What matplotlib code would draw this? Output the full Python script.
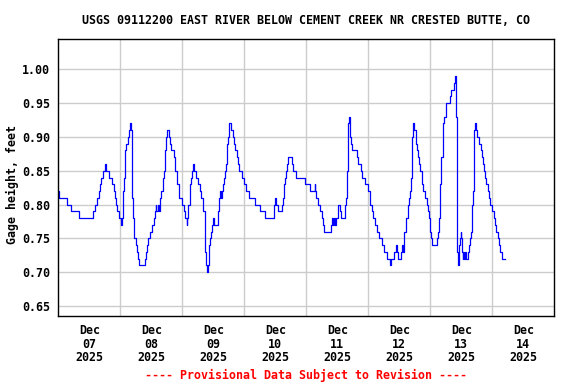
import matplotlib
matplotlib.use("Agg")
import matplotlib.pyplot as plt
from matplotlib.ticker import FixedLocator, NullFormatter

# gage height readings, hours after 2025-12-07 00:00 MST
hours = [0.0, 0.4, 3.2, 4.8, 8.1, 13.3, 14.2, 15.0, 15.6, 16.0, 16.4, 17.4, 18.0, 18.4,
         19.8, 20.8, 21.4, 21.9, 22.4, 22.9, 23.4, 24.2, 24.7, 25.1, 25.5, 25.9, 26.3,
         26.8, 27.2, 27.7, 28.2, 28.6, 28.7, 29.1, 29.3, 30.0, 30.4, 30.9, 31.3, 33.5,
         33.8, 34.4, 34.9, 35.5, 36.3, 36.9, 37.3, 37.7, 38.0, 38.6, 39.0, 39.2, 39.9,
         40.4, 40.8, 41.2, 41.6, 41.8, 42.2, 42.8, 43.2, 43.7, 44.6, 45.0, 45.9, 46.8,
         47.9, 48.5, 49.0, 49.7, 50.0, 50.4, 50.8, 51.2, 51.6, 52.0, 52.5, 53.4, 54.2,
         54.7, 55.1, 55.2, 55.3, 56.2, 56.6, 56.9, 57.2, 57.5, 57.8, 58.2, 58.5, 58.9,
         59.3, 59.6, 60.0, 60.2, 61.8, 62.1, 62.7, 63.0, 63.4, 63.7, 64.1, 64.6, 65.0,
         65.2, 65.4, 65.7, 66.0, 67.0, 67.5, 67.9, 68.4, 69.0, 69.5, 70.1, 71.1, 71.8,
         72.7, 73.7, 76.2, 78.0, 80.0, 83.4, 84.0, 84.3, 84.9, 86.6, 87.0, 87.2, 87.5,
         87.7, 88.1, 88.5, 88.9, 90.3, 90.8, 92.0, 95.6, 97.6, 99.2, 99.3, 99.7, 100.7,
         101.2, 101.9, 102.3, 102.9, 105.5, 106.1, 106.4, 106.8, 107.1, 107.4, 108.1,
         108.4, 109.0, 109.5, 110.8, 111.0, 111.3, 111.7, 111.9, 112.2, 112.6, 113.1,
         113.3, 113.8, 115.5, 116.2, 117.1, 117.7, 118.7, 119.9, 120.7, 121.3, 122.0,
         122.6, 123.2, 124.1, 125.2, 125.9, 127.2, 128.5, 128.9, 129.9, 130.6, 131.0,
         131.6, 132.8, 133.1, 133.4, 133.8, 134.0, 134.7, 135.3, 135.8, 136.2, 136.6,
         137.0, 137.4, 137.6, 138.3, 138.9, 139.3, 139.8, 140.2, 140.9, 141.2, 141.8,
         142.8, 143.2, 143.6, 143.8, 144.3, 144.7, 146.6, 147.0, 147.3, 147.7, 147.9,
         148.3, 148.8, 149.1, 149.5, 149.9, 150.1, 151.5, 152.2, 153.0, 153.6, 154.0,
         154.1, 154.35, 154.6, 155.0, 155.4, 155.8, 156.0, 156.3, 156.5, 156.8, 157.1,
         157.6, 157.8, 158.5, 158.9, 159.2, 159.8, 160.1, 160.5, 160.8, 161.0, 161.3,
         161.7, 162.2, 162.8, 163.5, 164.0, 164.4, 164.9, 165.3, 165.7, 166.2, 166.6,
         167.2, 167.9, 168.5, 169.2, 169.5, 170.1, 170.7, 171.1, 171.7, 173.0]
gage = [0.82, 0.81, 0.80, 0.79, 0.78, 0.79, 0.80, 0.81, 0.82, 0.83, 0.84, 0.85, 0.86, 0.85,
        0.84, 0.83, 0.82, 0.81, 0.80, 0.79, 0.78, 0.77, 0.78, 0.82, 0.84, 0.88, 0.89,
        0.90, 0.91, 0.92, 0.91, 0.89, 0.81, 0.78, 0.75, 0.74, 0.73, 0.72, 0.71, 0.72,
        0.73, 0.74, 0.75, 0.76, 0.77, 0.78, 0.79, 0.80, 0.79, 0.80, 0.79, 0.81, 0.82,
        0.84, 0.85, 0.88, 0.89, 0.90, 0.91, 0.90, 0.89, 0.88, 0.87, 0.85, 0.83, 0.81,
        0.80, 0.79, 0.78, 0.77, 0.78, 0.80, 0.83, 0.84, 0.85, 0.86, 0.85, 0.84, 0.83,
        0.82, 0.81, 0.82, 0.81, 0.79, 0.77, 0.73, 0.71, 0.70, 0.71, 0.72, 0.74, 0.75,
        0.76, 0.77, 0.78, 0.77, 0.79, 0.81, 0.82, 0.81, 0.82, 0.83, 0.84, 0.85, 0.86,
        0.88, 0.89, 0.90, 0.92, 0.91, 0.90, 0.89, 0.88, 0.87, 0.86, 0.85, 0.84, 0.83,
        0.82, 0.81, 0.80, 0.79, 0.78, 0.80, 0.81, 0.80, 0.79, 0.80, 0.81, 0.82, 0.83,
        0.84, 0.85, 0.86, 0.87, 0.86, 0.85, 0.84, 0.83, 0.82, 0.83, 0.82, 0.81, 0.80,
        0.79, 0.78, 0.77, 0.76, 0.77, 0.78, 0.77, 0.78, 0.77, 0.78, 0.79,
        0.80, 0.79, 0.78, 0.79, 0.80, 0.81, 0.83, 0.85, 0.92, 0.93, 0.90,
        0.89, 0.88, 0.87, 0.86, 0.85, 0.84, 0.83, 0.82, 0.80, 0.79, 0.78,
        0.77, 0.76, 0.75, 0.74, 0.73, 0.72, 0.71, 0.72, 0.73, 0.74, 0.73,
        0.72, 0.73, 0.74, 0.73, 0.75, 0.76, 0.78, 0.80, 0.81, 0.82, 0.84,
        0.90, 0.92, 0.91, 0.89, 0.88, 0.87, 0.86, 0.85, 0.83, 0.82, 0.81,
        0.80, 0.79, 0.78, 0.76, 0.75, 0.74, 0.75, 0.76, 0.78, 0.81, 0.83,
        0.87, 0.89, 0.92, 0.93, 0.94, 0.95, 0.96, 0.97, 0.98, 0.99, 0.98,
        0.93, 0.73, 0.71, 0.74, 0.75, 0.76, 0.75, 0.73, 0.72, 0.73, 0.72,
        0.73, 0.72, 0.73, 0.74, 0.75, 0.76, 0.80, 0.82, 0.86, 0.91, 0.92,
        0.91, 0.90, 0.89, 0.88, 0.87, 0.86, 0.85, 0.84, 0.83, 0.82, 0.81,
        0.80, 0.79, 0.78, 0.77, 0.76, 0.75, 0.74, 0.73, 0.72, 0.72]

day_labels = ['Dec\n07\n2025', 'Dec\n08\n2025', 'Dec\n09\n2025', 'Dec\n10\n2025',
              'Dec\n11\n2025', 'Dec\n12\n2025', 'Dec\n13\n2025', 'Dec\n14\n2025']
y_ticks = [0.65, 0.70, 0.75, 0.80, 0.85, 0.90, 0.95, 1.00]

font = 'DejaVu Sans Mono'
fs = 8.4

fig = plt.figure(figsize=(5.76, 3.84), dpi=100)
ax = fig.add_axes([0.1012, 0.1771, 0.8611, 0.7206])

ax.plot(hours, gage, color='#0000ff', lw=0.9, drawstyle='steps-post')

ax.set_xlim(0, 24 * len(day_labels))
ax.set_ylim(0.6352, 1.0444)

ax.xaxis.set_major_locator(FixedLocator([12 + 24 * i for i in range(len(day_labels))]))
ax.xaxis.set_minor_locator(FixedLocator([24 * i for i in range(1, len(day_labels))]))
ax.set_xticklabels(day_labels, fontfamily=font, fontweight='bold', fontsize=fs,
                   linespacing=1.05)
ax.xaxis.set_minor_formatter(NullFormatter())
ax.set_yticks(y_ticks)
ax.set_yticklabels(['%.2f' % v for v in y_ticks], fontfamily=font, fontweight='bold',
                   fontsize=fs)
ax.tick_params(axis='x', which='both', length=0, pad=6)
ax.tick_params(axis='y', length=0, pad=6)

ax.grid(True, which='minor', axis='x', color='#cccccc', lw=1.0)
ax.grid(True, which='major', axis='y', color='#cccccc', lw=1.0)
ax.set_axisbelow(True)
for s in ax.spines.values():
    s.set_linewidth(1.0)
    s.set_color('black')

fig.text(306 / 576, 1 - 20 / 384, 'USGS 09112200 EAST RIVER BELOW CEMENT CREEK NR CRESTED BUTTE, CO',
         ha='center', va='center', fontfamily=font, fontweight='bold', fontsize=fs)
fig.text(12 / 576, 1 - 184 / 384, 'Gage height, feet', rotation=90, ha='center', va='center',
         fontfamily=font, fontweight='bold', fontsize=fs)
fig.text(306 / 576, 1 - 375 / 384, '---- Provisional Data Subject to Revision ----',
         ha='center', va='center', color='red', fontfamily=font, fontweight='bold', fontsize=fs)

fig.savefig('out.png', dpi=100)
